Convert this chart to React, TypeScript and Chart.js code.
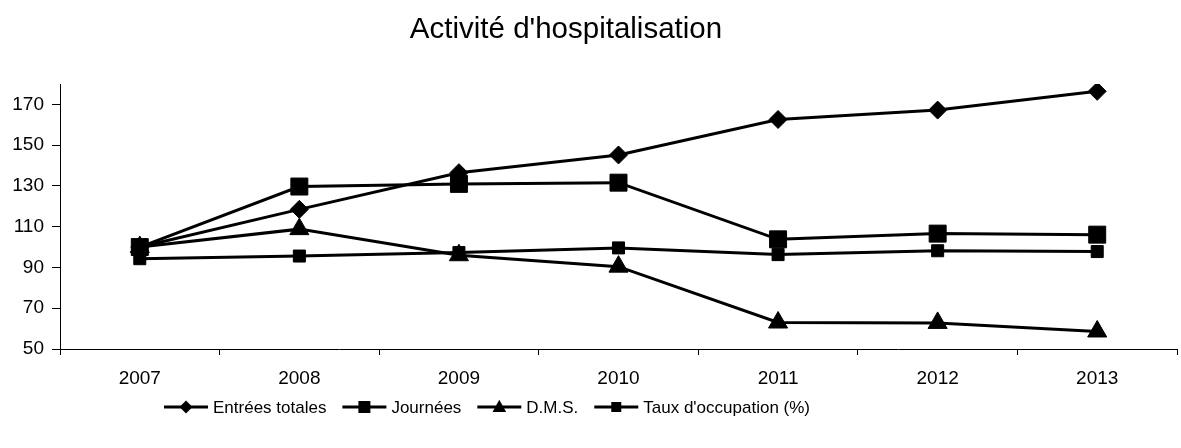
import React, { useEffect, useRef } from 'react';
import { Chart, registerables } from 'chart.js';

Chart.register(...registerables);

const years = ['2007', '2008', '2009', '2010', '2011', '2012', '2013'];
const entreesTotales = [100, 118.5, 136.5, 145.2, 162.6, 167.2, 176.4];
const journees = [100, 129.7, 131, 131.6, 103.8, 106.6, 106.1];
const dms = [100, 108.8, 96, 90.4, 63, 62.8, 58.6];
const tauxOccupation = [94.3, 95.6, 97.3, 99.6, 96.3, 98.2, 97.8];
const yTicks = [50, 70, 90, 110, 130, 150, 170];
const seriesNames = ['Entrées totales', 'Journées', 'D.M.S.', "Taux d'occupation (%)"];
const chartTitle = "Activité d'hospitalisation";

const FONT = '"Liberation Sans", Arial, Helvetica, sans-serif';

function drawMarker(ctx: CanvasRenderingContext2D, style: string, cx: number, cy: number, size: number) {
  ctx.beginPath();
  if (style === 'rectRot') {
    ctx.moveTo(cx - size, cy);
    ctx.lineTo(cx, cy - size);
    ctx.lineTo(cx + size, cy);
    ctx.lineTo(cx, cy + size);
  } else if (style === 'rect') {
    ctx.rect(cx - size, cy - size, size * 2, size * 2);
  } else {
    ctx.moveTo(cx, cy - size * 1.1);
    ctx.lineTo(cx + size * 1.05, cy + size * 0.75);
    ctx.lineTo(cx - size * 1.05, cy + size * 0.75);
  }
  ctx.closePath();
  ctx.fill();
}

export default function App() {
  const canvasRef = useRef<HTMLCanvasElement | null>(null);

  useEffect(() => {
    if (!canvasRef.current) return;
    const styles = ['rectRot', 'rect', 'triangle', 'rect'];
    const radii = [9, 12, 11, 8.5];
    const legendSizes = [6.5, 6, 6.5, 5];
    const values = [entreesTotales, journees, dms, tauxOccupation];

    const titleAndLegend = {
      id: 'titleAndLegend',
      afterDraw(ch: any) {
        const ctx: CanvasRenderingContext2D = ch.ctx;
        ctx.save();
        ctx.fillStyle = '#000';
        ctx.strokeStyle = '#000';
        // title
        ctx.font = `normal 29.5px ${FONT}`;
        ctx.textAlign = 'center';
        ctx.textBaseline = 'middle';
        ctx.fillText(chartTitle, 566, 30);
        // legend
        ctx.font = `normal 17px ${FONT}`;
        ctx.textAlign = 'left';
        const iconW = 44;
        const gap = 5;
        const itemGap = 16;
        const widths = seriesNames.map((n) => ctx.measureText(n).width);
        const total = widths.reduce((a, w) => a + w + iconW + gap, 0) + itemGap * (seriesNames.length - 1);
        let x = 487 - total / 2;
        const y = 407;
        seriesNames.forEach((name, i) => {
          ctx.lineWidth = 3;
          ctx.beginPath();
          ctx.moveTo(x, y);
          ctx.lineTo(x + iconW, y);
          ctx.stroke();
          drawMarker(ctx, styles[i], x + iconW / 2, y, legendSizes[i]);
          ctx.fillText(name, x + iconW + gap, y + 1);
          x += iconW + gap + widths[i] + itemGap;
        });
        ctx.restore();
      },
    };

    const chart = new Chart(canvasRef.current, {
      type: 'line',
      data: {
        labels: years,
        datasets: values.map((v, i) => ({
          label: seriesNames[i],
          data: v,
          borderColor: '#000',
          backgroundColor: '#000',
          borderWidth: 3,
          pointStyle: styles[i] as any,
          pointRadius: radii[i],
          pointBorderWidth: 1,
          pointBackgroundColor: '#000',
          pointBorderColor: '#000',
          tension: 0,
          fill: false,
        })),
      },
      options: {
        animation: false,
        responsive: false,
        maintainAspectRatio: false,
        layout: { padding: { left: 0, right: 2, top: 84, bottom: 59 } },
        plugins: {
          title: { display: false },
          legend: { display: false },
          tooltip: { enabled: false },
        },
        scales: {
          x: {
            type: 'category',
            offset: true,
            grid: {
              display: true,
              offset: true,
              drawOnChartArea: false,
              drawTicks: true,
              tickLength: 6,
              color: '#000',
            },
            border: { display: true, color: '#000', width: 1 },
            ticks: {
              color: '#000',
              font: { family: FONT, size: 19 },
              padding: 12,
              maxRotation: 0,
              autoSkip: false,
            },
            afterFit: (s: any) => {
              s.height = 40;
            },
          },
          y: {
            type: 'linear',
            min: 50,
            max: 180,
            grid: {
              display: true,
              drawOnChartArea: false,
              drawTicks: true,
              tickLength: 8,
              color: '#000',
            },
            border: { display: true, color: '#000', width: 1 },
            ticks: {
              color: '#000',
              font: { family: FONT, size: 19 },
              padding: 8,
            },
            afterBuildTicks: (s: any) => {
              s.ticks = yTicks.map((v) => ({ value: v }));
            },
            afterFit: (s: any) => {
              s.width = 60;
            },
          },
        },
      },
      plugins: [titleAndLegend],
    });
    return () => chart.destroy();
  }, []);

  return (
    <div style={{ position: 'absolute', left: 0, top: 0, width: 1181, height: 448, overflow: 'hidden', background: '#fff' }}>
      <canvas ref={canvasRef} width={1190} height={448} style={{ display: 'block', width: 1190, height: 448 }} />
    </div>
  );
}
